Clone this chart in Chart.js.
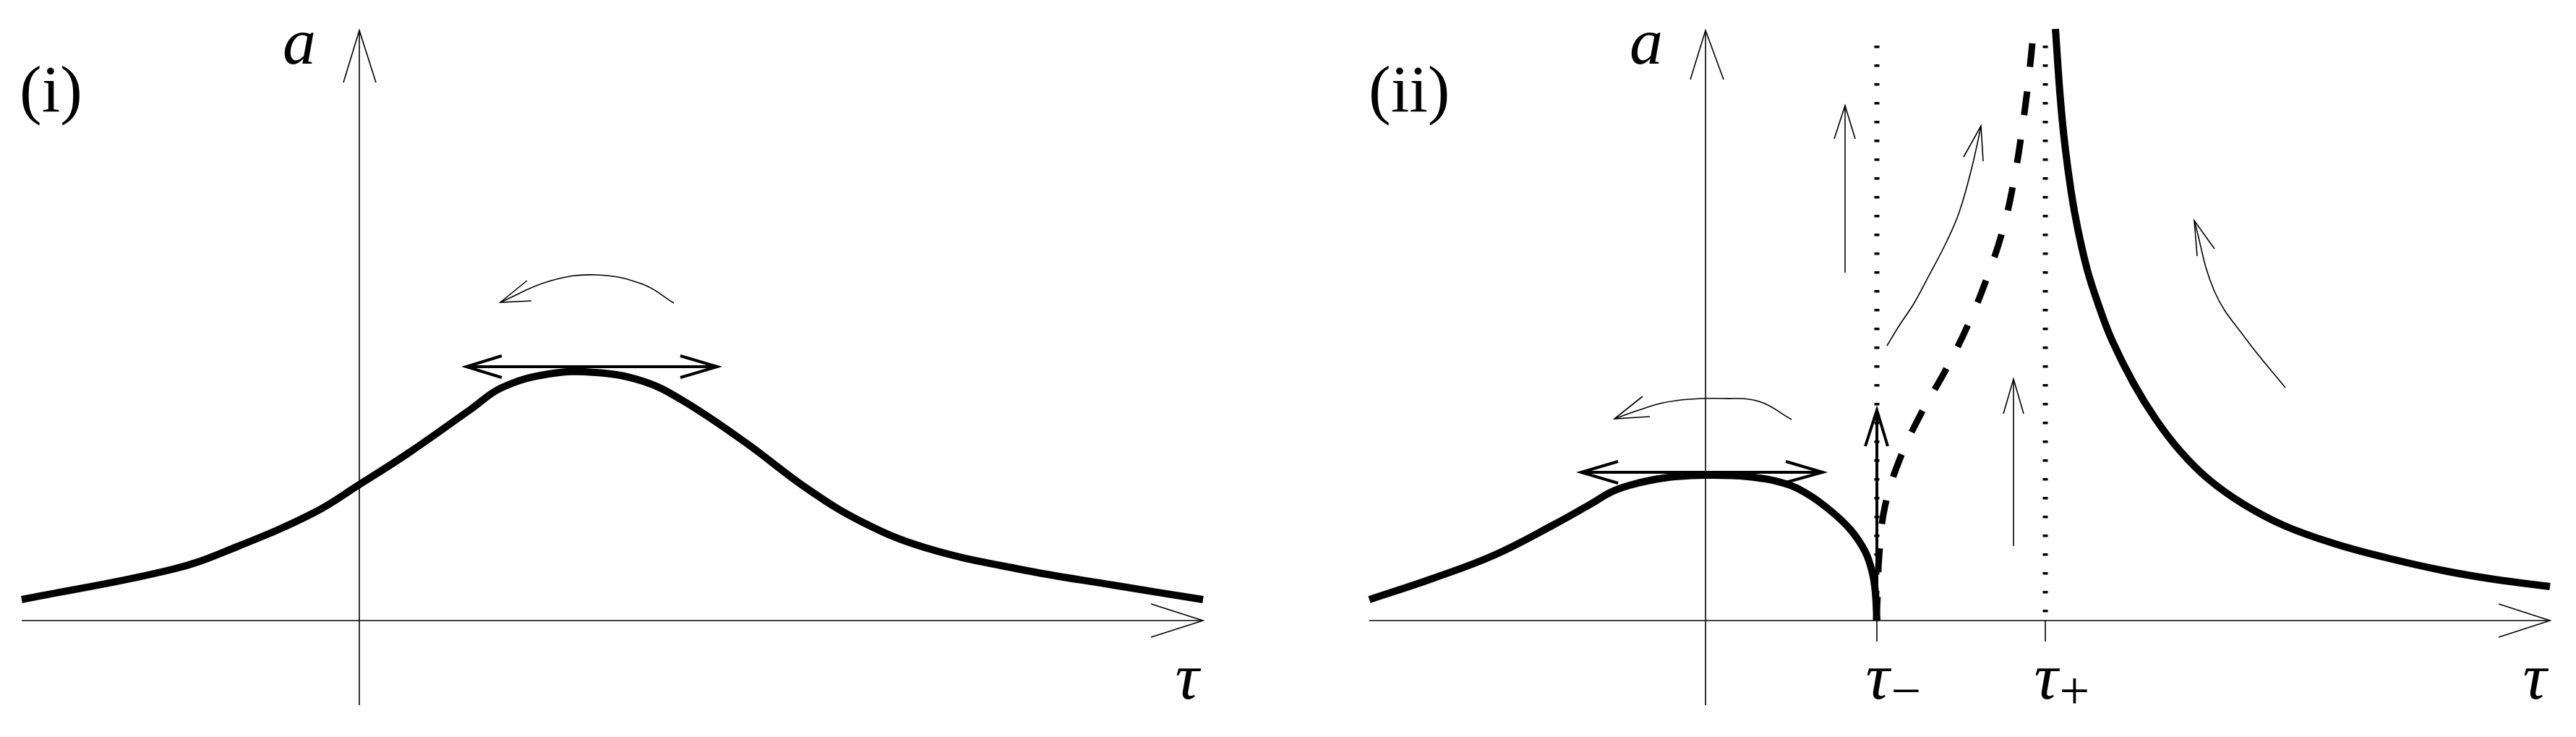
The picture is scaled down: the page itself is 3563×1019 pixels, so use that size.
<!DOCTYPE html>
<html><head><meta charset="utf-8">
<script src="https://cdn.jsdelivr.net/npm/chart.js@4.4.1/dist/chart.umd.min.js"></script>
<style>
html,body{margin:0;padding:0;background:#fff;overflow:hidden;}
#wrap{position:relative;width:3563px;height:1019px;background:#fff;}
canvas{position:absolute;top:0;}
</style></head><body>
<div id="wrap">
<canvas id="c1" width="1781" height="1019" style="left:0px"></canvas>
<canvas id="c2" width="1782" height="1019" style="left:1781px"></canvas>
</div>
<script>
// ---------- Panel (i) data : [tau, a] ----------
const curveI = [[-4.67,0.29],[-2.58,0.71],[-1.72,1.01],[-0.63,1.49],[0,1.88],[0.67,2.31],[1.54,2.92],[1.97,3.22],[2.62,3.41],[3.27,3.43],[3.92,3.31],[4.46,3.05],[5.33,2.47],[6.20,1.82],[6.96,1.36],[7.82,1.01],[9.13,0.71],[10.43,0.49],[11.67,0.29]];
const dblArrowI = [[1.48,3.51],[4.95,3.51]];
const dblHeadLI = [[1.97,3.66],[1.48,3.51],[1.97,3.36]];
const dblHeadRI = [[4.44,3.66],[4.95,3.51],[4.44,3.36]];
const flowArcI = [[4.35,4.39],[3.92,4.65],[3.27,4.78],[2.62,4.69],[1.95,4.40]];
const flowArcHeadI = [[2.32,4.70],[1.95,4.40],[2.38,4.42]];
const tauAxisI = [[-4.67,0],[11.67,0]];
const tauHeadI = [[10.95,0.23],[11.67,0],[10.95,-0.23]];
const aAxisI = [[0,-1.17],[0,8.16]];
const aHeadI = [[-0.22,7.44],[0,8.16],[0.23,7.44]];

// ---------- Panel (ii) data : [tau, a] ----------
const curveIIleft = [[-4.65,0.29],[-3.78,0.58],[-2.91,0.91],[-2.09,1.33],[-1.59,1.61],[-1.30,1.78],[-1.05,1.87],[-0.76,1.94],[-0.42,1.99],[0.02,2.01],[0.58,1.99],[1.08,1.90],[1.41,1.75],[1.74,1.51],[2.01,1.25],[2.21,0.95],[2.31,0.65],[2.35,0.38],[2.37,0]];
const curveIIright = [[4.84,8.18],[4.905,7.25],[4.97,6.58],[5.06,5.91],[5.15,5.41],[5.28,4.85],[5.43,4.38],[5.62,3.88],[5.92,3.28],[6.23,2.78],[6.56,2.35],[6.95,1.96],[7.44,1.61],[8.01,1.31],[8.71,1.06],[9.41,0.87],[10.21,0.69],[10.91,0.57],[11.68,0.47]];
const separatrixII = [[2.36,0],[2.38,0.35],[2.40,0.88],[2.48,1.57],[2.69,2.24],[2.98,2.86],[3.33,3.48],[3.64,4.11],[3.90,4.76],[4.12,5.43],[4.27,6.11],[4.38,6.80],[4.47,7.50],[4.54,8.18]];
const dottedMinus = [[2.37,7.95],[2.37,0]];
const dottedPlus = [[4.70,7.95],[4.70,0]];
const tickMinus = [[2.37,0],[2.37,-0.29]];
const tickPlus = [[4.70,0],[4.70,-0.29]];
const vArrowII = [[2.37,0],[2.37,2.91]];
const vHeadII = [[2.21,2.41],[2.37,2.91],[2.52,2.41]];
const up1 = [[1.93,4.81],[1.93,7.12]];
const up1Head = [[1.78,6.66],[1.93,7.12],[2.07,6.66]];
const up2 = [[4.26,1.03],[4.26,3.34]];
const up2Head = [[4.12,2.86],[4.26,3.34],[4.40,2.86]];
const flow3 = [[2.51,3.80],[2.68,4.08],[2.88,4.38],[3.08,4.75],[3.34,5.25],[3.51,5.65],[3.68,6.25],[3.81,6.83]];
const flow3Head = [[3.57,6.41],[3.81,6.84],[3.84,6.35]];
const flow4 = [[8.02,3.22],[7.47,3.90],[7.04,4.55],[6.76,5.53]];
const flow4Head = [[6.80,5.04],[6.76,5.53],[7.04,5.14]];
const flowArcII = [[1.19,2.78],[0.74,3.03],[0.24,3.07],[-0.22,3.06],[-0.59,3.01],[-0.92,2.91],[-1.26,2.79]];
const flowArcHeadII = [[-0.87,3.10],[-1.26,2.79],[-0.77,2.82]];
const dblArrowII = [[-1.72,2.05],[1.62,2.05]];
const dblHeadLII = [[-1.21,2.20],[-1.72,2.05],[-1.21,1.90]];
const dblHeadRII = [[1.11,2.20],[1.62,2.05],[1.11,1.91]];
const tauAxisII = [[-4.65,0],[11.68,0]];
const tauHeadII = [[10.97,0.23],[11.68,0],[10.97,-0.23]];
const aAxisII = [[0,-1.17],[0,8.16]];
const aHeadII = [[-0.21,7.48],[0,8.16],[0.25,7.48]];

// ---------- text labels ----------
const labelsI = [
  {t:'(i)', x:-4.70, y:7.04, it:false, align:'left'},
  {t:'a', x:-0.83, y:7.70, it:true, align:'center'},
  {t:'τ', x:11.45, y:-1.08, it:true, align:'center'}
];
const labelsII = [
  {t:'(ii)', x:-4.66, y:7.04, it:false, align:'left'},
  {t:'a', x:-0.82, y:7.70, it:true, align:'center'},
  {t:'τ', x:11.47, y:-1.08, it:true, align:'center'},
  {t:'τ', sub:'−', x:2.38, y:-1.08, it:true, align:'center'},
  {t:'τ', sub:'+', x:4.71, y:-1.08, it:true, align:'center'}
];

const pts = arr => arr.map(([x,y]) => ({x, y}));
function ds(arr, w, extra){
  return Object.assign({data: pts(arr), showLine:true, borderColor:'#000', backgroundColor:'#000',
    borderWidth:w, pointRadius:0, pointHoverRadius:0, fill:false, tension:0,
    borderCapStyle:'butt', borderJoinStyle:'miter'}, extra||{});
}

const labelPlugin = {
  id:'labels',
  afterDatasetsDraw(chart, args, opts){
    const ctx = chart.ctx, xs = chart.scales.x, ys = chart.scales.y;
    ctx.save();
    ctx.fillStyle = '#000';
    ctx.textBaseline = 'alphabetic';
    for (const l of opts.items){
      const px = xs.getPixelForValue(l.x), py = ys.getPixelForValue(l.y);
      ctx.font = (l.it ? 'italic ' : '') + '92px "Liberation Serif", "DejaVu Serif", serif';
      ctx.textAlign = l.align;
      ctx.fillText(l.t, px, py);
      if (l.sub){
        const w = ctx.measureText(l.t).width;
        ctx.font = '74px "Liberation Serif", "DejaVu Serif", serif';
        ctx.textAlign = 'left';
        ctx.fillText(l.sub, px + w/2 + 2, py + 14);
      }
    }
    ctx.restore();
  }
};

function makeChart(id, datasets, xmin, xmax, items){
  return new Chart(document.getElementById(id), {
    type:'scatter',
    data:{datasets},
    options:{
      responsive:false, animation:false, devicePixelRatio:1,
      layout:{padding:0},
      plugins:{legend:{display:false}, tooltip:{enabled:false}, labels:{items}},
      events:[],
      scales:{
        x:{type:'linear', display:false, min:xmin, max:xmax},
        y:{type:'linear', display:false, min:-1.61, max:8.58}
      }
    },
    plugins:[labelPlugin]
  });
}

const thin = 1.6, thick = 10, mid = 4;
const smooth = {tension:0.4, borderJoinStyle:'round'};
makeChart('c1', [
  ds(tauAxisI, thin), ds(tauHeadI, thin), ds(aAxisI, thin), ds(aHeadI, thin),
  ds(curveI, thick, smooth),
  ds(dblArrowI, mid), ds(dblHeadLI, mid), ds(dblHeadRI, mid),
  ds(flowArcI, thin, {tension:0.4}), ds(flowArcHeadI, thin)
], -4.97, 12.84, labelsI);

makeChart('c2', [
  ds(tauAxisII, thin), ds(tauHeadII, thin), ds(aAxisII, thin), ds(aHeadII, thin),
  ds(tickMinus, thin), ds(tickPlus, thin),
  ds(dottedMinus, 7, {borderDash:[3.5,22.5]}), ds(dottedPlus, 7, {borderDash:[3.5,22.5]}),
  ds(curveIIleft, thick, smooth),
  ds(curveIIright, thick, smooth),
  ds(separatrixII, 9, Object.assign({borderDash:[33,34]}, smooth)),
  ds(vArrowII, mid), ds(vHeadII, mid),
  ds(up1, thin), ds(up1Head, thin), ds(up2, thin), ds(up2Head, thin),
  ds(flow3, thin, {tension:0.4}), ds(flow3Head, thin),
  ds(flow4, thin, {tension:0.4}), ds(flow4Head, thin),
  ds(flowArcII, thin, {tension:0.4}), ds(flowArcHeadII, thin),
  ds(dblArrowII, mid), ds(dblHeadLII, mid), ds(dblHeadRII, mid)
], -5.78, 12.04, labelsII);
</script>
</body></html>
